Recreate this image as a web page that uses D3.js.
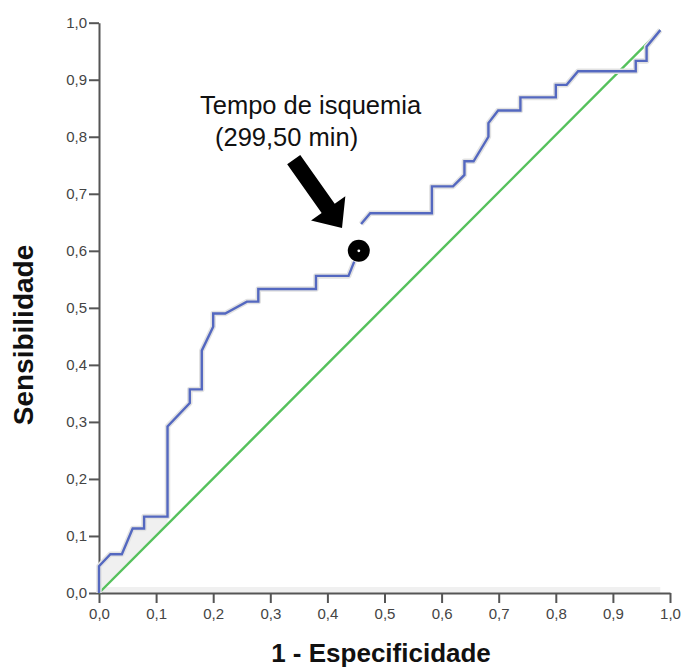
<!DOCTYPE html>
<html lang="pt">
<head>
<meta charset="UTF-8">
<title>Curva ROC</title>
<script src="https://d3js.org/d3.v7.min.js"></script>
<style>
  body { margin: 0; background: #fff; }
  svg { display: block; font-family: "Liberation Sans", Arial, sans-serif; }
</style>
</head>
<body>
<svg width="681" height="670" id="mainsvg"></svg>
<script>
// ROC curve (1 - especificidade, sensibilidade)
const rocX1 = [0, 0, 0.02, 0.04, 0.059, 0.079, 0.079, 0.12, 0.12, 0.159, 0.159, 0.18, 0.18, 0.2, 0.2, 0.221, 0.259, 0.279, 0.279, 0.38, 0.38, 0.437, 0.447];
const rocY1 = [0, 0.047, 0.068, 0.068, 0.113, 0.113, 0.134, 0.134, 0.292, 0.333, 0.357, 0.357, 0.425, 0.467, 0.49, 0.49, 0.511, 0.511, 0.533, 0.533, 0.556, 0.556, 0.581];
const rocX2 = [0.459, 0.475, 0.583, 0.583, 0.62, 0.64, 0.64, 0.656, 0.682, 0.682, 0.699, 0.738, 0.738, 0.8, 0.8, 0.819, 0.839, 0.94, 0.94, 0.959, 0.959, 0.983];
const rocY2 = [0.647, 0.666, 0.666, 0.713, 0.713, 0.733, 0.757, 0.757, 0.8, 0.824, 0.846, 0.846, 0.869, 0.869, 0.891, 0.891, 0.915, 0.915, 0.933, 0.933, 0.958, 0.987];
// linha de referência
const refX = [0, 0.983];
const refY = [0, 0.987];
// ponto de corte
const cutX = 0.455, cutY = 0.6;
const cutLabel = ['Tempo de isquemia', '(299,50 min)'];
const ticks = [0, 0.1, 0.2, 0.3, 0.4, 0.5, 0.6, 0.7, 0.8, 0.9, 1.0];

const svg = d3.select('#mainsvg');
const fmt = d => d.toFixed(1).replace('.', ',');

const x = d3.scaleLinear().domain([0, 1]).range([99, 670]);
const y = d3.scaleLinear().domain([0, 1]).range([593, 22.7]);

const pts1 = rocX1.map((v, i) => [v, rocY1[i]]);
const pts2 = rocX2.map((v, i) => [v, rocY2[i]]);
const line = d3.line().x(d => x(d[0])).y(d => y(d[1]));

// faint grey shading in the lower left
const shade = pts1.filter(d => d[0] <= 0.12 && d[1] <= 0.134).concat([[0.12, 0.12], [0, 0]]);
svg.append('path').attr('d', line(shade) + 'Z').attr('fill', '#f0f0f0');
svg.append('rect')
  .attr('x', x(0)).attr('y', y(0) - 6)
  .attr('width', x(refX[1]) - x(0)).attr('height', 6)
  .attr('fill', '#f0f0f0');

// eixos
const gx = svg.append('g').attr('transform', `translate(0,${y(0)})`)
  .call(d3.axisBottom(x).tickValues(ticks).tickSize(10).tickSizeOuter(0).tickPadding(5).tickFormat(fmt));
const gy = svg.append('g').attr('transform', `translate(${x(0)},0)`)
  .call(d3.axisLeft(y).tickValues(ticks).tickSize(10).tickSizeOuter(0).tickPadding(2).tickFormat(fmt));
[gx, gy].forEach(g => {
  g.select('.domain').attr('stroke', '#555').attr('stroke-width', 2);
  g.selectAll('.tick line').attr('stroke', '#555').attr('stroke-width', 2);
  g.selectAll('.tick text').attr('fill', '#444').attr('font-size', 15)
    .attr('font-family', '"Liberation Sans", Arial, sans-serif');
});

// linha de referência
svg.append('path')
  .attr('d', line(refX.map((v, i) => [v, refY[i]])))
  .attr('fill', 'none').attr('stroke', '#55c15c').attr('stroke-width', 2.4);

// curva ROC, com sombra
[pts1, pts2].forEach(p => {
  svg.append('path').attr('d', line(p)).attr('fill', 'none')
    .attr('stroke', '#e2e2e2').attr('stroke-width', 5.5).attr('stroke-linejoin', 'round');
});
[pts1, pts2].forEach(p => {
  svg.append('path').attr('d', line(p)).attr('fill', 'none')
    .attr('stroke', '#5468c0').attr('stroke-width', 2.4);
});

// ponto de corte
svg.append('path')
  .attr('transform', `translate(${x(cutX)},${y(cutY)})`)
  .attr('d', d3.symbol(d3.symbolCircle, 380)())
  .attr('fill', '#000');
svg.append('circle').attr('cx', x(cutX)).attr('cy', y(cutY)).attr('r', 1.4).attr('fill', '#fff');

// seta
const ax0 = x(0.341), ay0 = y(0.76), ax1 = x(0.4256), ay1 = y(0.64);
const ang = Math.atan2(ay1 - ay0, ax1 - ax0);
const len = Math.hypot(ax1 - ax0, ay1 - ay0);
const sw = 8, hw = 21, hl = 24;
const arrow = [[0, -sw], [len - hl, -sw], [len - hl, -hw], [len, 0], [len - hl, hw], [len - hl, sw], [0, sw]];
svg.append('path')
  .attr('transform', `translate(${ax0},${ay0}) rotate(${ang * 180 / Math.PI})`)
  .attr('d', d3.line()(arrow) + 'Z')
  .attr('fill', '#000');

// rótulo
svg.append('text').attr('x', 200).attr('y', 114).text(cutLabel[0])
  .attr('font-size', 25.5).attr('fill', '#111');
svg.append('text').attr('x', 215).attr('y', 146).text(cutLabel[1])
  .attr('font-size', 25.5).attr('fill', '#111');

// títulos dos eixos
svg.append('text').text('1 - Especificidade')
  .attr('x', 381).attr('y', 662).attr('text-anchor', 'middle')
  .attr('font-size', 26).attr('font-weight', 'bold').attr('fill', '#111');
svg.append('text').text('Sensibilidade')
  .attr('transform', 'translate(33,335) rotate(-90)').attr('text-anchor', 'middle')
  .attr('font-size', 28).attr('font-weight', 'bold').attr('fill', '#111');
</script>
</body>
</html>
